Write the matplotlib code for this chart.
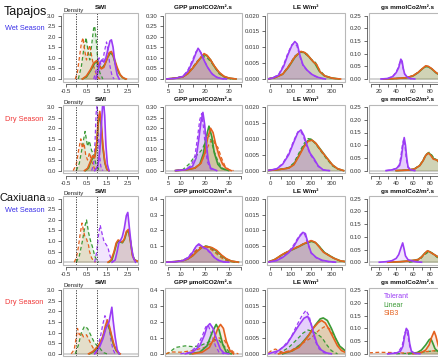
import matplotlib
matplotlib.use("Agg")
import matplotlib.pyplot as plt
from matplotlib.patches import Rectangle

plt.rcParams['font.family'] = ['Liberation Sans', 'DejaVu Sans']

# ---------------- labels / categories ----------------
MODELS = ["Linear", "SIB3", "Tolerant"]
COLORS = {"Tolerant": "#9b3cf5", "Linear": "#3a9a35", "SIB3": "#e4611e"}
LEGEND_ORDER = ["Tolerant", "Linear", "SIB3"]
SITES = ["Tapajos", "Caxiuana"]
SEASONS = ["Wet Season", "Dry Season", "Wet Season", "Dry Season"]
SEASON_COLORS = {"Wet Season": "#3b30e8", "Dry Season": "#f03838"}
VARIABLES = ["SWI", "GPP \u00b5molCO2/m\u00b2.s", "LE W/m\u00b2", "gs mmolCo2/m\u00b2.s"]

# ---------------- axes ticks ----------------
SWI_XTICKS = [-0.5, 0.0, 0.5, 1.0, 1.5, 2.0, 2.5, 3.0]
SWI_XLABELS = ["-0.5", "", "0.5", "", "1.5", "", "2.5", ""]
GPP_XTICKS = [5, 10, 15, 20, 25, 30, 35]
GPP_XLABELS = ["5", "10", "", "20", "", "30", ""]
LE_XTICKS = [0, 50, 100, 150, 200, 250, 300, 350]
LE_XLABELS = ["0", "", "100", "", "200", "", "300", ""]
GS_XTICKS = [10, 20, 30, 40, 50, 60, 70, 80, 90]
GS_XLABELS = ["", "20", "", "40", "", "60", "", "80", ""]

SWI_YTICKS = [0.0, 0.5, 1.0, 1.5, 2.0, 2.5, 3.0]
SWI_YLABELS = ["0.0", "0.5", "1.0", "1.5", "2.0", "2.5", "3.0"]
GPP_YTICKS_TAP = [0.0, 0.05, 0.10, 0.15, 0.20, 0.25, 0.30]
GPP_YLABELS_TAP = ["0.00", "0.05", "0.10", "0.15", "0.20", "0.25", "0.30"]
GPP_YTICKS_CAX = [0.0, 0.1, 0.2, 0.3, 0.4]
GPP_YLABELS_CAX = ["0.0", "0.1", "0.2", "0.3", "0.4"]
LE_YTICKS = [0.0, 0.005, 0.010, 0.015, 0.020]
LE_YLABELS = ["0.000", "0.005", "0.010", "0.015", "0.020"]
GS_YTICKS = [0.0, 0.05, 0.10, 0.15, 0.20, 0.25]
GS_YLABELS = ["0.00", "0.05", "0.10", "0.15", "0.20", "0.25"]

XLIMS = [(-0.65, 3.02), (3.6, 35.5), (-17, 367), (7.8, 99)]

# ---------------- density curves ----------------
# key: (model, linestyle) -> list of (x, density)
tap_wet_swi = {
    ("Tolerant", "solid"): [(0.95, 0), (1.05, 0.3), (1.15, 0.75), (1.25, 0.9), (1.35, 0.8), (1.45, 1.0), (1.55, 1.4), (1.65, 1.8), (1.72, 1.85), (1.8, 1.5), (1.9, 0.7), (2.0, 0.2), (2.1, 0)],
    ("Tolerant", "dashed"): [(0.85, 0), (0.95, 0.3), (1.05, 0.8), (1.12, 1.0), (1.2, 0.7), (1.3, 0.9), (1.4, 1.4), (1.48, 1.75), (1.55, 1.4), (1.65, 0.6), (1.75, 0.15), (1.85, 0)],
    ("Linear", "solid"): [(0.3, 0), (0.5, 0.1), (0.7, 0.4), (0.9, 0.75), (1.0, 0.8), (1.1, 0.65), (1.25, 0.5), (1.4, 0.7), (1.55, 1.05), (1.68, 1.25), (1.8, 1.1), (1.95, 0.6), (2.1, 0.25), (2.25, 0.08), (2.4, 0)],
    ("Linear", "dashed"): [(0.1, 0), (0.25, 0.6), (0.35, 1.3), (0.48, 1.95), (0.58, 1.3), (0.66, 0.9), (0.75, 1.6), (0.85, 2.4), (0.9, 2.5), (0.97, 1.9), (1.05, 0.9), (1.15, 0.3), (1.3, 0)],
    ("SIB3", "solid"): [(0.3, 0), (0.5, 0.15), (0.7, 0.45), (0.85, 0.75), (1.0, 0.87), (1.1, 0.7), (1.22, 0.48), (1.35, 0.55), (1.5, 0.95), (1.62, 1.25), (1.72, 1.3), (1.85, 1.0), (2.0, 0.55), (2.15, 0.2), (2.3, 0.05), (2.45, 0)],
    ("SIB3", "dashed"): [(-0.05, 0), (0.05, 0.3), (0.15, 1.0), (0.25, 1.7), (0.33, 1.95), (0.42, 1.3), (0.5, 0.9), (0.6, 1.4), (0.66, 1.6), (0.75, 1.1), (0.85, 0.6), (0.95, 0.3), (1.05, 0.1), (1.15, 0)],
}
tap_wet_gpp = {
    ("Tolerant", "solid"): [(4, 0), (8, 0.003), (11, 0.012), (13, 0.035), (15, 0.08), (16.5, 0.125), (17.3, 0.145), (18.2, 0.13), (19.5, 0.095), (21, 0.06), (23, 0.025), (25, 0.008), (27, 0.002), (29, 0)],
    ("Tolerant", "dashed"): [(4, 0), (8, 0.003), (11, 0.013), (13, 0.04), (15, 0.09), (16.5, 0.13), (17.5, 0.138), (18.5, 0.125), (20, 0.085), (21.5, 0.05), (23.5, 0.02), (25.5, 0.006), (28, 0)],
    ("Linear", "solid"): [(4, 0), (8, 0.004), (11, 0.01), (13, 0.025), (15, 0.05), (17, 0.08), (19, 0.108), (20, 0.115), (21, 0.11), (22.5, 0.09), (24, 0.06), (26, 0.03), (28, 0.012), (30, 0.004), (33, 0)],
    ("Linear", "dashed"): [(4, 0), (8, 0.004), (11, 0.012), (13, 0.03), (15, 0.055), (17, 0.085), (18.5, 0.1), (20, 0.105), (21.5, 0.095), (23, 0.075), (24.5, 0.05), (26, 0.025), (28, 0.01), (31, 0)],
    ("SIB3", "solid"): [(4, 0), (8, 0.004), (11, 0.01), (13, 0.025), (15, 0.05), (17, 0.08), (18.8, 0.108), (19.8, 0.12), (21, 0.112), (22.5, 0.09), (24, 0.062), (26, 0.032), (28, 0.013), (30, 0.005), (33, 0)],
    ("SIB3", "dashed"): [(4, 0), (8, 0.004), (11, 0.011), (13, 0.027), (15, 0.052), (17, 0.083), (19, 0.11), (20.2, 0.117), (21.5, 0.105), (23, 0.08), (25, 0.045), (27, 0.018), (29, 0.006), (32, 0)],
}
tap_wet_le = {
    ("Tolerant", "solid"): [(-15, 0), (10, 0.0003), (40, 0.0012), (65, 0.004), (85, 0.0075), (105, 0.0105), (120, 0.0118), (132, 0.011), (145, 0.0075), (160, 0.0045), (180, 0.0028), (205, 0.0014), (235, 0.0005), (270, 0)],
    ("Tolerant", "dashed"): [(-15, 0), (10, 0.0003), (40, 0.0014), (65, 0.0045), (85, 0.008), (105, 0.0108), (118, 0.0113), (130, 0.0105), (145, 0.007), (160, 0.0042), (185, 0.0024), (210, 0.0011), (240, 0.0003), (270, 0)],
    ("Linear", "solid"): [(-15, 0), (20, 0.0004), (60, 0.0015), (90, 0.0038), (120, 0.0068), (145, 0.0084), (160, 0.0085), (180, 0.0078), (200, 0.0062), (220, 0.0048), (240, 0.0025), (265, 0.001), (300, 0.0003), (340, 0)],
    ("Linear", "dashed"): [(-15, 0), (20, 0.0004), (60, 0.0016), (90, 0.0042), (120, 0.0072), (145, 0.0085), (160, 0.0083), (180, 0.0075), (200, 0.0062), (222, 0.0052), (240, 0.003), (265, 0.0012), (300, 0.0003), (340, 0)],
    ("SIB3", "solid"): [(-15, 0), (20, 0.0004), (60, 0.0015), (90, 0.004), (120, 0.007), (150, 0.0087), (170, 0.0083), (190, 0.007), (210, 0.0055), (228, 0.0045), (245, 0.0022), (270, 0.0009), (310, 0.0002), (345, 0)],
}
tap_wet_gs = {
    ("Tolerant", "solid"): [(22, 0), (30, 0.002), (36, 0.01), (40, 0.025), (43, 0.045), (45.5, 0.078), (47, 0.07), (48.5, 0.04), (50, 0.02), (53, 0.008), (57, 0.002), (62, 0)],
    ("Tolerant", "dashed"): [(22, 0), (30, 0.002), (36, 0.011), (40, 0.027), (43, 0.05), (45, 0.074), (46.5, 0.07), (48, 0.045), (50, 0.02), (53, 0.007), (58, 0)],
    ("Linear", "solid"): [(25, 0), (40, 0.002), (52, 0.005), (60, 0.012), (66, 0.025), (71, 0.04), (75, 0.05), (78, 0.048), (82, 0.04), (87, 0.025), (92, 0.015), (99, 0.008)],
    ("Linear", "dashed"): [(25, 0), (40, 0.002), (52, 0.005), (60, 0.013), (66, 0.027), (71, 0.041), (75, 0.049), (79, 0.047), (83, 0.038), (88, 0.022), (93, 0.012), (99, 0.006)],
    ("SIB3", "solid"): [(25, 0), (40, 0.002), (52, 0.005), (60, 0.013), (66, 0.026), (71, 0.041), (75, 0.052), (78, 0.05), (82, 0.041), (87, 0.026), (92, 0.015), (99, 0.008)],
}

tap_dry_swi = {
    ("Tolerant", "solid"): [(0.9, 0), (1.05, 0.2), (1.15, 0.9), (1.22, 2.0), (1.28, 3.0), (1.33, 3.3), (1.39, 2.6), (1.45, 1.2), (1.52, 0.3), (1.6, 0)],
    ("Tolerant", "dashed"): [(0.75, 0), (0.85, 0.3), (0.92, 1.4), (0.97, 2.7), (1.02, 3.1), (1.07, 2.2), (1.12, 0.9), (1.2, 0.2), (1.3, 0)],
    ("Linear", "solid"): [(0.45, 0), (0.6, 0.12), (0.72, 0.45), (0.82, 0.6), (0.92, 0.7), (1.0, 1.3), (1.08, 2.3), (1.15, 2.6), (1.22, 2.1), (1.3, 1.1), (1.4, 0.35), (1.5, 0.05), (1.6, 0)],
    ("Linear", "dashed"): [(0.0, 0), (0.15, 0.35), (0.3, 1.15), (0.43, 1.85), (0.55, 1.15), (0.64, 1.4), (0.75, 0.95), (0.85, 0.75), (0.95, 0.35), (1.1, 0.05), (1.2, 0)],
    ("SIB3", "solid"): [(0.4, 0), (0.55, 0.1), (0.7, 0.45), (0.8, 0.7), (0.9, 0.6), (1.0, 1.3), (1.08, 2.4), (1.15, 2.8), (1.22, 2.3), (1.3, 1.2), (1.4, 0.4), (1.5, 0.05), (1.6, 0)],
    ("SIB3", "dashed"): [(-0.15, 0), (0.0, 0.3), (0.12, 1.0), (0.22, 1.5), (0.3, 1.05), (0.38, 1.3), (0.46, 0.75), (0.55, 0.5), (0.65, 0.85), (0.75, 0.45), (0.88, 0.12), (1.0, 0)],
}
tap_dry_gpp = {
    ("Tolerant", "solid"): [(8, 0), (12, 0.004), (15, 0.02), (16.5, 0.06), (17.5, 0.14), (18.5, 0.23), (19.3, 0.275), (20, 0.22), (20.8, 0.12), (21.5, 0.05), (22.5, 0.012), (25, 0)],
    ("Tolerant", "dashed"): [(8, 0), (12, 0.005), (14.5, 0.025), (16, 0.07), (17, 0.15), (18, 0.24), (18.8, 0.27), (19.6, 0.2), (20.4, 0.1), (21.2, 0.04), (22.5, 0.008), (25, 0)],
    ("Linear", "solid"): [(8, 0), (12, 0.003), (16, 0.012), (18, 0.03), (19.5, 0.08), (20.5, 0.15), (21.8, 0.21), (23, 0.16), (24, 0.085), (25.5, 0.03), (27, 0.01), (30, 0)],
    ("Linear", "dashed"): [(8, 0), (11, 0.005), (13.5, 0.03), (15.5, 0.06), (17.5, 0.08), (19, 0.1), (20.5, 0.14), (21.5, 0.17), (22.5, 0.15), (24, 0.09), (25.5, 0.045), (27, 0.015), (29, 0)],
    ("SIB3", "solid"): [(8, 0), (12, 0.003), (16, 0.012), (18.5, 0.035), (20, 0.08), (21.2, 0.15), (22.5, 0.2), (23.5, 0.18), (24.5, 0.13), (26, 0.07), (27.5, 0.03), (29, 0.01), (31, 0)],
    ("SIB3", "dashed"): [(8, 0), (12, 0.003), (16, 0.012), (18.5, 0.035), (20.5, 0.09), (22, 0.13), (23.5, 0.15), (24.5, 0.12), (25.5, 0.11), (27, 0.06), (28.5, 0.02), (30, 0.005), (32, 0)],
}
tap_dry_le = {
    ("Tolerant", "solid"): [(-15, 0), (30, 0.0005), (60, 0.002), (90, 0.005), (115, 0.009), (135, 0.012), (150, 0.0128), (165, 0.011), (180, 0.008), (195, 0.0055), (215, 0.0037), (235, 0.0015), (260, 0.0002), (290, 0)],
    ("Tolerant", "dashed"): [(-15, 0), (30, 0.0006), (60, 0.0022), (90, 0.0055), (115, 0.0095), (135, 0.0122), (148, 0.0125), (162, 0.0108), (178, 0.0078), (195, 0.0052), (215, 0.0033), (235, 0.0013), (260, 0.0002), (290, 0)],
    ("Linear", "solid"): [(-15, 0), (40, 0.0003), (90, 0.0008), (115, 0.002), (140, 0.0048), (165, 0.0078), (185, 0.0095), (200, 0.0098), (220, 0.0088), (245, 0.0068), (275, 0.0042), (305, 0.0018), (330, 0.0006), (360, 0)],
    ("Linear", "dashed"): [(-15, 0), (40, 0.0003), (90, 0.001), (115, 0.0024), (140, 0.0055), (165, 0.0085), (185, 0.0101), (200, 0.0099), (220, 0.0086), (245, 0.0064), (275, 0.0038), (305, 0.0015), (330, 0.0005), (360, 0)],
    ("SIB3", "solid"): [(-15, 0), (40, 0.0003), (90, 0.0008), (115, 0.0018), (140, 0.0045), (165, 0.0075), (185, 0.0092), (205, 0.0096), (225, 0.0085), (245, 0.0066), (275, 0.0042), (305, 0.0018), (330, 0.0006), (360, 0)],
}
tap_dry_gs = {
    ("Tolerant", "solid"): [(28, 0), (35, 0.003), (40, 0.008), (44, 0.02), (46, 0.05), (48, 0.1), (49.5, 0.13), (51, 0.1), (52.5, 0.05), (54, 0.015), (57, 0.003), (62, 0)],
    ("Tolerant", "dashed"): [(28, 0), (35, 0.003), (40, 0.009), (43.5, 0.022), (45.5, 0.055), (47.5, 0.105), (49, 0.125), (50.5, 0.095), (52, 0.045), (54, 0.012), (57, 0.002), (62, 0)],
    ("Linear", "solid"): [(40, 0), (55, 0.002), (62, 0.007), (68, 0.02), (72, 0.04), (75, 0.06), (78.5, 0.07), (81, 0.062), (84, 0.048), (88, 0.042), (93, 0.025), (99, 0.012)],
    ("Linear", "dashed"): [(40, 0), (55, 0.002), (62, 0.008), (68, 0.022), (72, 0.043), (75, 0.063), (79, 0.072), (82, 0.062), (85, 0.048), (89, 0.04), (94, 0.022), (99, 0.01)],
    ("SIB3", "solid"): [(40, 0), (55, 0.002), (62, 0.007), (68, 0.02), (72, 0.04), (75, 0.06), (78, 0.069), (81, 0.06), (84, 0.045), (88, 0.042), (93, 0.026), (99, 0.013)],
}

cax_wet_swi = {
    ("Tolerant", "solid"): [(1.75, 0), (1.9, 0.1), (2.0, 0.5), (2.08, 0.9), (2.15, 1.0), (2.25, 1.2), (2.35, 1.6), (2.45, 2.2), (2.52, 2.35), (2.6, 1.6), (2.7, 0.7), (2.8, 0.2), (2.9, 0)],
    ("Tolerant", "dashed"): [(0.9, 0), (1.0, 0.5), (1.1, 1.4), (1.17, 1.75), (1.25, 1.4), (1.35, 1.0), (1.45, 0.85), (1.55, 0.7), (1.62, 0.4), (1.72, 0.1), (1.8, 0)],
    ("Linear", "solid"): [(1.6, 0), (1.75, 0.12), (1.88, 0.55), (1.98, 0.9), (2.06, 1.0), (2.16, 0.95), (2.26, 0.92), (2.36, 1.08), (2.46, 1.4), (2.55, 1.5), (2.65, 1.0), (2.75, 0.35), (2.85, 0.12), (3.0, 0.04)],
    ("Linear", "dashed"): [(0.0, 0), (0.15, 0.3), (0.3, 1.0), (0.42, 1.7), (0.5, 2.0), (0.6, 1.4), (0.7, 1.0), (0.8, 0.7), (0.9, 0.3), (1.0, 0.08), (1.1, 0)],
    ("SIB3", "solid"): [(1.55, 0), (1.7, 0.1), (1.85, 0.5), (1.95, 0.9), (2.05, 1.05), (2.15, 1.0), (2.25, 0.95), (2.35, 1.1), (2.45, 1.45), (2.55, 1.55), (2.65, 1.0), (2.75, 0.3), (2.85, 0.1), (3.0, 0.05)],
    ("SIB3", "dashed"): [(-0.1, 0), (0.0, 0.2), (0.1, 0.7), (0.2, 1.4), (0.28, 1.85), (0.35, 1.5), (0.42, 1.2), (0.5, 1.1), (0.6, 0.8), (0.65, 0.5), (0.75, 0.2), (0.85, 0.05), (0.95, 0)],
}
cax_wet_gpp = {
    ("Tolerant", "solid"): [(4, 0), (8, 0.003), (11, 0.01), (13, 0.025), (15, 0.06), (16.5, 0.1), (17.6, 0.115), (18.5, 0.105), (19.5, 0.092), (21, 0.082), (22.5, 0.06), (24, 0.03), (26, 0.01), (28, 0.002), (30, 0)],
    ("Tolerant", "dashed"): [(4, 0), (8, 0.003), (11, 0.012), (13, 0.03), (15, 0.065), (16.5, 0.1), (17.5, 0.11), (18.5, 0.1), (20, 0.088), (21.5, 0.07), (23, 0.045), (25, 0.018), (27, 0.005), (29, 0)],
    ("Linear", "solid"): [(4, 0), (8, 0.004), (11, 0.01), (13, 0.02), (15, 0.04), (17, 0.07), (19, 0.094), (21, 0.1), (23, 0.09), (25, 0.07), (27, 0.042), (29, 0.02), (31, 0.007), (34, 0)],
    ("Linear", "dashed"): [(4, 0), (8, 0.004), (11, 0.012), (13, 0.025), (15, 0.05), (17, 0.08), (19, 0.1), (20.5, 0.102), (22, 0.092), (24, 0.07), (26, 0.043), (28, 0.02), (30, 0.007), (33, 0)],
    ("SIB3", "solid"): [(4, 0), (8, 0.004), (11, 0.01), (13, 0.02), (15, 0.04), (17, 0.07), (19, 0.095), (21, 0.098), (23, 0.092), (25, 0.075), (27, 0.045), (29, 0.022), (31, 0.008), (34, 0)],
    ("SIB3", "dashed"): [(4, 0), (8, 0.004), (11, 0.012), (13, 0.026), (15, 0.052), (17, 0.083), (19, 0.102), (20.5, 0.1), (22, 0.088), (24, 0.066), (26, 0.04), (28, 0.018), (30, 0.006), (33, 0)],
}
cax_wet_le = {
    ("Tolerant", "solid"): [(-15, 0), (30, 0.0005), (60, 0.0015), (90, 0.003), (115, 0.005), (140, 0.0078), (160, 0.0094), (172, 0.009), (185, 0.006), (200, 0.003), (225, 0.0015), (255, 0.0006), (290, 0.0002), (320, 0)],
    ("Tolerant", "dashed"): [(-15, 0), (30, 0.0006), (60, 0.0017), (90, 0.0033), (115, 0.0055), (140, 0.0082), (157, 0.0093), (170, 0.0086), (183, 0.0058), (200, 0.0029), (225, 0.0014), (255, 0.0005), (290, 0.0001), (320, 0)],
    ("Linear", "solid"): [(-15, 0), (20, 0.0008), (60, 0.0024), (100, 0.0037), (140, 0.0049), (170, 0.0059), (205, 0.0066), (225, 0.006), (245, 0.0046), (265, 0.0031), (290, 0.0021), (315, 0.0012), (345, 0.0004), (367, 0.0002)],
    ("Linear", "dashed"): [(-15, 0), (20, 0.0008), (60, 0.0025), (100, 0.0039), (140, 0.0051), (170, 0.0061), (200, 0.0066), (220, 0.0062), (240, 0.005), (262, 0.0033), (288, 0.0022), (312, 0.0012), (340, 0.0005), (367, 0.0002)],
    ("SIB3", "solid"): [(-15, 0), (20, 0.0008), (60, 0.0025), (100, 0.0038), (140, 0.005), (170, 0.006), (200, 0.0068), (220, 0.0063), (240, 0.0048), (260, 0.0032), (285, 0.0022), (310, 0.0013), (340, 0.0005), (367, 0.0002)],
}
cax_wet_gs = {
    ("Tolerant", "solid"): [(20, 0), (28, 0.002), (35, 0.006), (40, 0.015), (43, 0.03), (46, 0.06), (47.7, 0.076), (49.5, 0.05), (51, 0.025), (54, 0.01), (60, 0.004), (65, 0.001), (70, 0)],
    ("Linear", "solid"): [(30, 0), (45, 0.002), (55, 0.005), (62, 0.008), (66, 0.011), (70, 0.021), (74, 0.036), (77.5, 0.044), (80.5, 0.04), (85, 0.03), (90, 0.02), (95, 0.012), (99, 0.008)],
    ("Linear", "dashed"): [(55, 0), (62, 0.003), (68, 0.01), (72, 0.025), (76, 0.035), (79, 0.042), (83, 0.035), (88, 0.02), (95, 0.01), (99, 0.006)],
    ("SIB3", "solid"): [(30, 0), (45, 0.002), (55, 0.005), (62, 0.008), (66, 0.01), (70, 0.02), (74, 0.035), (77, 0.045), (80, 0.04), (85, 0.03), (90, 0.02), (95, 0.012), (99, 0.008)],
}

cax_dry_swi = {
    ("Tolerant", "solid"): [(0.9, 0), (1.05, 0.2), (1.15, 0.35), (1.3, 0.7), (1.45, 1.2), (1.6, 1.5), (1.68, 1.9), (1.74, 2.2), (1.8, 1.6), (1.9, 0.8), (2.0, 0.2), (2.1, 0)],
    ("Tolerant", "dashed"): [(0.9, 0), (1.0, 0.2), (1.1, 0.5), (1.2, 0.9), (1.3, 1.4), (1.4, 1.8), (1.5, 1.6), (1.6, 1.2), (1.7, 0.6), (1.8, 0.2), (1.9, 0)],
    ("Linear", "solid"): [(0.65, 0), (0.85, 0.1), (1.0, 0.25), (1.15, 0.45), (1.3, 0.8), (1.45, 1.3), (1.55, 1.4), (1.65, 1.1), (1.8, 0.5), (1.95, 0.15), (2.1, 0)],
    ("Linear", "dashed"): [(-0.05, 0), (0.1, 0.4), (0.25, 1.0), (0.4, 1.3), (0.55, 1.2), (0.7, 0.9), (0.85, 0.6), (1.0, 0.4), (1.1, 0.35), (1.2, 0.2), (1.35, 0.05), (1.5, 0)],
    ("SIB3", "solid"): [(0.6, 0), (0.8, 0.1), (0.95, 0.25), (1.05, 0.35), (1.15, 0.5), (1.3, 0.8), (1.42, 1.3), (1.52, 1.6), (1.62, 1.3), (1.72, 0.9), (1.85, 0.4), (2.0, 0.1), (2.15, 0)],
    ("SIB3", "dashed"): [(-0.25, 0), (-0.1, 0.2), (0.0, 0.8), (0.06, 1.2), (0.15, 0.9), (0.25, 1.0), (0.35, 0.8), (0.5, 0.9), (0.6, 0.7), (0.75, 0.4), (0.9, 0.15), (1.05, 0)],
}
cax_dry_gpp = {
    ("Tolerant", "solid"): [(12, 0), (15, 0.01), (18, 0.05), (20, 0.12), (21, 0.17), (22.2, 0.19), (23.5, 0.16), (25, 0.09), (26.5, 0.03), (28, 0.005), (30, 0)],
    ("Tolerant", "dashed"): [(10, 0), (14, 0.01), (17, 0.05), (19, 0.11), (20.5, 0.17), (21.5, 0.18), (23, 0.12), (24.5, 0.05), (26, 0.01), (28, 0)],
    ("Linear", "solid"): [(14, 0), (18, 0.01), (21, 0.05), (23, 0.13), (24.8, 0.185), (26, 0.15), (27.5, 0.06), (29, 0.01), (31, 0)],
    ("Linear", "dashed"): [(4, 0), (5, 0.005), (8, 0.04), (12, 0.05), (15, 0.045), (18, 0.05), (21, 0.07), (24, 0.09), (26, 0.085), (28, 0.05), (30, 0.015), (32, 0)],
    ("SIB3", "solid"): [(15, 0), (19, 0.01), (22, 0.04), (24, 0.1), (25.5, 0.16), (26.6, 0.185), (27.8, 0.16), (29, 0.08), (30.5, 0.02), (32, 0)],
    ("SIB3", "dashed"): [(4, 0), (6, 0.012), (10, 0.01), (15, 0.02), (20, 0.04), (23, 0.07), (26, 0.1), (28, 0.09), (30, 0.04), (32, 0.01), (34, 0)],
}
cax_dry_le = {
    ("Tolerant", "solid"): [(-10, 0), (40, 0.001), (80, 0.003), (110, 0.006), (140, 0.009), (165, 0.0112), (183, 0.0118), (200, 0.0095), (215, 0.006), (230, 0.003), (250, 0.0012), (275, 0.0003), (300, 0)],
    ("Tolerant", "dashed"): [(20, 0), (60, 0.002), (100, 0.005), (130, 0.009), (155, 0.012), (175, 0.0137), (190, 0.012), (205, 0.008), (220, 0.004), (240, 0.0015), (265, 0.0003), (290, 0)],
    ("Linear", "solid"): [(60, 0), (110, 0.001), (150, 0.003), (190, 0.006), (220, 0.009), (245, 0.011), (260, 0.0113), (280, 0.0105), (300, 0.008), (320, 0.005), (340, 0.0025), (367, 0.001)],
    ("Linear", "dashed"): [(40, 0), (90, 0.002), (130, 0.0045), (160, 0.0065), (185, 0.0075), (210, 0.007), (235, 0.006), (255, 0.005), (275, 0.003), (300, 0.001), (330, 0)],
    ("SIB3", "solid"): [(40, 0), (100, 0.0008), (140, 0.002), (180, 0.005), (210, 0.008), (235, 0.0098), (252, 0.0105), (270, 0.0097), (290, 0.0075), (310, 0.005), (330, 0.0025), (350, 0.001), (367, 0.0005)],
    ("SIB3", "dashed"): [(-10, 0.0003), (10, 0.0012), (25, 0.0015), (40, 0.001), (60, 0.0005), (100, 0.001), (150, 0.003), (200, 0.005), (240, 0.0075), (265, 0.0085), (290, 0.008), (315, 0.0055), (340, 0.0025), (367, 0.001)],
}
cax_dry_gs = {
    ("Tolerant", "solid"): [(30, 0), (40, 0.003), (45, 0.01), (48, 0.03), (50, 0.07), (52, 0.1), (54, 0.09), (56, 0.04), (58, 0.01), (62, 0.002), (68, 0)],
    ("Tolerant", "dashed"): [(30, 0), (42, 0.005), (47, 0.03), (50, 0.08), (52, 0.095), (54, 0.07), (56, 0.03), (59, 0.005), (64, 0)],
    ("Linear", "solid"): [(55, 0), (65, 0.005), (70, 0.015), (75, 0.035), (79, 0.055), (81, 0.06), (83, 0.045), (86, 0.02), (90, 0.008), (95, 0.003), (99, 0.001)],
    ("Linear", "dashed"): [(40, 0), (60, 0.003), (70, 0.006), (80, 0.01), (90, 0.012), (99, 0.008)],
    ("SIB3", "solid"): [(60, 0), (70, 0.005), (75, 0.015), (79, 0.035), (82, 0.065), (85, 0.088), (87, 0.07), (90, 0.03), (93, 0.01), (97, 0.003), (99, 0.001)],
    ("SIB3", "dashed"): [(8, 0.004), (20, 0.006), (35, 0.005), (50, 0.003), (65, 0.004), (75, 0.008), (85, 0.012), (95, 0.01), (99, 0.009)],
}

PANELS = [
    [tap_wet_swi, tap_wet_gpp, tap_wet_le, tap_wet_gs],
    [tap_dry_swi, tap_dry_gpp, tap_dry_le, tap_dry_gs],
    [cax_wet_swi, cax_wet_gpp, cax_wet_le, cax_wet_gs],
    [cax_dry_swi, cax_dry_gpp, cax_dry_le, cax_dry_gs],
]

# ---------------- layout (pixels) ----------------
W, H = 438, 358
fig = plt.figure(figsize=(W / 100, H / 100), dpi=100)

COL_LEFT = [63, 165, 267, 369]
COL_WIDTH = [75, 77, 78, 77]
ROW_ZERO = [79 + 91.6 * r for r in range(4)]
DATA_H = 63.5
PAD = DATA_H * 0.04

xticks_all = [(SWI_XTICKS, SWI_XLABELS), (GPP_XTICKS, GPP_XLABELS),
              (LE_XTICKS, LE_XLABELS), (GS_XTICKS, GS_XLABELS)]


def yticks_for(r, c):
    if c == 0:
        return SWI_YTICKS, SWI_YLABELS
    if c == 1:
        return (GPP_YTICKS_TAP, GPP_YLABELS_TAP) if r < 2 else (GPP_YTICKS_CAX, GPP_YLABELS_CAX)
    if c == 2:
        return LE_YTICKS, LE_YLABELS
    return GS_YTICKS, GS_YLABELS


AX_COLOR = "#333333"
BOX_COLOR = "#b8b8b8"

for r in range(4):
    for c in range(4):
        top = ROW_ZERO[r] - DATA_H - PAD
        bot = ROW_ZERO[r] + PAD
        ax = fig.add_axes([COL_LEFT[c] / W, (H - bot) / H, COL_WIDTH[c] / W, (bot - top) / H])
        yt, yl = yticks_for(r, c)
        ymax = yt[-1]
        ax.set_ylim(-0.04 * ymax, 1.04 * ymax)
        ax.set_xlim(*XLIMS[c])
        ax.patch.set_alpha(0)

        # baseline
        ax.axhline(0, color="#d0d0d0", lw=1.3, zorder=1)

        panel = PANELS[r][c]
        # fills
        for style in ["dashed", "solid"]:
            for m in MODELS:
                pts = panel.get((m, style))
                if pts is None:
                    continue
                xs = [p[0] for p in pts]
                ys = [p[1] for p in pts]
                ax.fill_between(xs, 0, ys, color=COLORS[m], alpha=0.13, lw=0, zorder=2)
        # lines
        for style in ["dashed", "solid"]:
            for m in MODELS:
                pts = panel.get((m, style))
                if pts is None:
                    continue
                xs = [p[0] for p in pts]
                ys = [p[1] for p in pts]
                if style == "dashed":
                    ax.plot(xs, ys, color=COLORS[m], lw=0.9, ls=(0, (3, 2)), zorder=3)
                else:
                    ax.plot(xs, ys, color=COLORS[m], lw=1.2, zorder=4)

        if c == 0:
            for xv in (0.0, 1.0):
                ax.axvline(xv, color="#222222", lw=0.6, ls=(0, (1.5, 1.5)), zorder=5)
            ax.text(0.0, 1.0, "Density", transform=ax.transAxes, ha="left", va="bottom",
                    fontsize=4.3, color="#222222")

        ax.set_title(VARIABLES[c], fontsize=4.6, fontweight="bold", pad=2.5, color="#111111")

        # box
        ax.add_patch(Rectangle((0, 0), 1, 1, transform=ax.transAxes, fill=False,
                               edgecolor=BOX_COLOR, lw=0.8, clip_on=False, zorder=6))
        for s in ["top", "right"]:
            ax.spines[s].set_visible(False)
        for s in ["left", "bottom"]:
            ax.spines[s].set_position(("outward", 1.8))
            ax.spines[s].set_color(AX_COLOR)
            ax.spines[s].set_linewidth(0.5)
        ax.spines["left"].set_bounds(yt[0], yt[-1])
        xt, xl = xticks_all[c]
        ax.spines["bottom"].set_bounds(xt[0], xt[-1])
        ax.set_xticks(xt)
        ax.set_xticklabels(xl)
        ax.set_yticks(yt)
        ax.set_yticklabels(yl)
        ax.tick_params(labelsize=4.3, length=2, width=0.5, pad=1.5, colors=AX_COLOR)
        if r == 3:
            # bottom row labels fall below the picture edge in the reference
            ax.tick_params(axis="x", labelbottom=False)

        if r == 3 and c == 3:
            for i, m in enumerate(LEGEND_ORDER):
                ax.text(0.19, 0.87 - i * 0.125, m, transform=ax.transAxes, ha="left",
                        va="center", fontsize=5, color=COLORS[m])

# row labels
def ftext(x, y, s, **kw):
    fig.text(x / W, 1 - y / H, s, **kw)

ftext(4, 12, SITES[0], fontsize=9.0, ha="left", va="center", color="#111111")
ftext(5, 28, SEASONS[0], fontsize=5.3, ha="left", va="center", color=SEASON_COLORS[SEASONS[0]])
ftext(5, 119.5, SEASONS[1], fontsize=5.3, ha="left", va="center", color=SEASON_COLORS[SEASONS[1]])
ftext(0, 198, SITES[1], fontsize=7.9, ha="left", va="center", color="#111111")
ftext(5, 210.5, SEASONS[2], fontsize=5.3, ha="left", va="center", color=SEASON_COLORS[SEASONS[2]])
ftext(5, 303, SEASONS[3], fontsize=5.3, ha="left", va="center", color=SEASON_COLORS[SEASONS[3]])

fig.savefig("out.png", dpi=100)
